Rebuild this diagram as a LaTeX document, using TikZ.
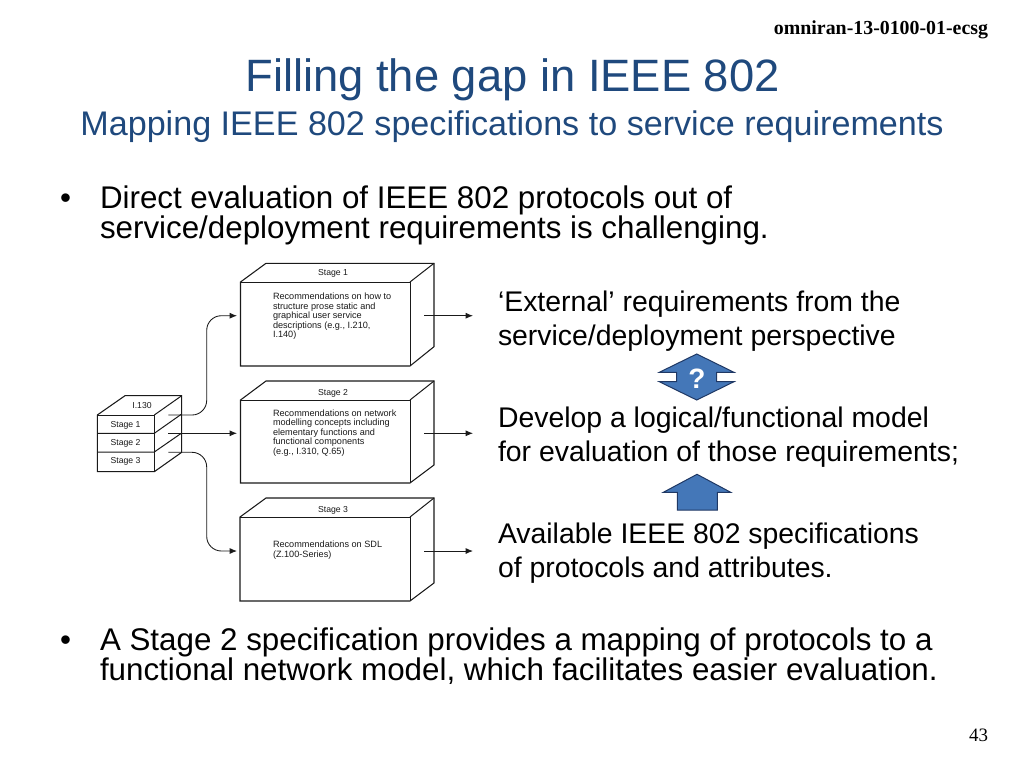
\documentclass[tikz,border=0pt]{standalone}
\usepackage{fontspec}
\setmainfont{Liberation Sans}
\newfontfamily\serifhead{Liberation Serif}
\usetikzlibrary{arrows.meta}
\definecolor{titleblue}{HTML}{1F497D}
\definecolor{arrowfill}{HTML}{4477B8}
\definecolor{arrowline}{HTML}{1F3864}
\definecolor{scan}{HTML}{1A1A1A}
\tikzset{
  txt/.style={inner sep=0pt,outer sep=0pt,anchor=base west,align=left},
  titletxt/.style={inner sep=0pt,outer sep=0pt,anchor=base,text=titleblue},
  body/.style={txt,font=\fontsize{23.5}{22.5}\selectfont},
  side/.style={txt,font=\fontsize{21.3}{25.3}\selectfont},
  head/.style={inner sep=0pt,outer sep=0pt,anchor=base east,font=\serifhead},
  scanbox/.style={draw=scan,line width=0.8pt,fill=white},
  scanline/.style={draw=scan,line width=0.75pt},
  flow/.style={draw=scan,line width=0.65pt,-{Latex[length=5.5pt,width=4.5pt]}},
  small/.style={txt,text=scan,font=\fontsize{6.85}{7.1}\selectfont},
  tiny/.style={inner sep=0pt,anchor=base,text=scan,font=\fontsize{6.5}{7}\selectfont},
  blockarrow/.style={draw=arrowline,line width=0.75pt,fill=arrowfill,line join=miter},
}
\begin{document}
\begin{tikzpicture}[x=0.75pt,y=-0.75pt]
\useasboundingbox (0,0) rectangle (1024,768);
% headers
\node[head,font=\serifhead\bfseries\fontsize{14.9}{16}\selectfont] (ref) at (988,34) {omniran-13-0100-01-ecsg};
\node[head,font=\serifhead\fontsize{14.2}{16}\selectfont] (page) at (988,741) {43};
\node[titletxt,font=\fontsize{34}{36}\selectfont] (title) at (512.5,91) {Filling the gap in IEEE 802};
\node[titletxt,font=\fontsize{25.6}{28}\selectfont] (subtitle) at (512,135) {Mapping IEEE 802 specifications to service requirements};
% bullets
\node[body] (b1m) at (60,208) {•};
\node[body] (b1) at (100,238) {Direct evaluation of IEEE 802 protocols out of\\service/deployment requirements is challenging.};
\node[body] (b2m) at (60,650) {•};
\node[body] (b2) at (100,680) {A Stage 2 specification provides a mapping of protocols to a\\functional network model, which facilitates easier evaluation.};
% side text
\node[side] (s1) at (498,345) {‘External’ requirements from the\\service/deployment perspective};
\node[side] (s2) at (498,461) {Develop a logical/functional model\\for evaluation of those requirements;};
\node[side] (s3) at (498,577) {Available IEEE 802 specifications\\of protocols and attributes.};
% block arrows
\draw[blockarrow] (696.7,354) -- (734,372.3) -- (716.7,372.3) -- (716.7,381.7) -- (734,381.7) -- (696.7,400) -- (659.3,381.7) -- (676.7,381.7) -- (676.7,372.3) -- (659.3,372.3) -- cycle;
\node[inner sep=0pt,anchor=base,text=white,font=\bfseries\fontsize{21}{22}\selectfont] (q) at (697,388) {?};
\draw[blockarrow] (697,474.3) -- (730.7,492.3) -- (717.3,492.3) -- (717.3,510) -- (677.3,510) -- (677.3,492.3) -- (663.3,492.3) -- cycle;
% stage boxes
\foreach \nm/\ft/\fb/\bt/\bb/\fl in {one/282/366/263.3/346.7/240.5,two/400/483/381/465/240.5,three/517/601/498/583/240}{
  \draw[scanbox] (266,\bt) -- (434,\bt) -- (434,\bb) -- (410,\fb) -- (\fl,\fb) -- (\fl,\ft) -- cycle;
  \draw[scanline] (\fl,\ft) -- (410,\ft) -- (410,\fb);
  \draw[scanline] (410,\ft) -- (434,\bt);
}
\node[tiny] (t1) at (333,275) {Stage 1};
\node[tiny] (t2) at (333,395) {Stage 2};
\node[tiny] (t3) at (333,512) {Stage 3};
\node[small] (d1) at (273,337.5) {Recommendations on how to\\structure prose static and\\graphical user service\\descriptions (e.g., I.210,\\I.140)};
\node[small] (d2) at (273,454) {Recommendations on network\\modelling concepts including\\elementary functions and\\functional components\\(e.g., I.310, Q.65)};
\node[small] (d3) at (273,557) {Recommendations on SDL\\(Z.100-Series)};
% small stack
\draw[scanbox] (125,395.7) -- (181.7,395.7) -- (181.7,452.3) -- (154.3,471.7) -- (97.3,471.7) -- (97.3,415) -- cycle;
\draw[scanline] (97.3,415) -- (154.3,415) -- (154.3,471.7);
\draw[scanline] (154.3,415) -- (181.7,395.7);
\draw[scanline] (97.3,433.3) -- (154.3,433.3) -- (181.7,414);
\draw[scanline] (97.3,452) -- (154.3,452) -- (181.7,433);
\node[tiny] (i130) at (142,408) {I.130};
\node[tiny] (k1) at (125.5,427.7) {Stage 1};
\node[tiny] (k2) at (125.5,445) {Stage 2};
\node[tiny] (k3) at (125.5,463) {Stage 3};
% connectors
\coordinate (o1) at (168.3,415);
\coordinate (o2) at (168.3,433.3);
\coordinate (o3) at (168.3,452.3);
\coordinate (i1) at (237,315.7);
\coordinate (i2) at (237,433.3);
\coordinate (i3) at (237,551);
\coordinate (r1a) at (424,315.7); \coordinate (r1b) at (473,315.7);
\coordinate (r2a) at (424,433.3); \coordinate (r2b) at (473,433.3);
\coordinate (r3a) at (424,551); \coordinate (r3b) at (473,551);
\draw[flow,rounded corners=11pt] (o1) -| (206.7,315.7) -- (i1);
\draw[flow] (o2) -- (i2);
\draw[flow,rounded corners=11pt] (o3) -| (206.7,551) -- (i3);
\draw[flow] (r1a) -- (r1b);
\draw[flow] (r2a) -- (r2b);
\draw[flow] (r3a) -- (r3b);
\end{tikzpicture}
\end{document}
